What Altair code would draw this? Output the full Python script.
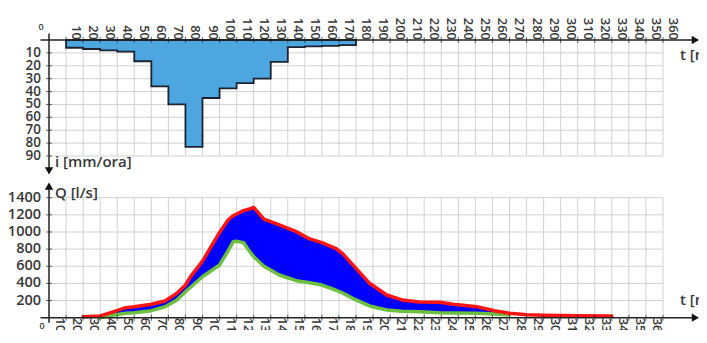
import altair as alt
import pandas as pd

# ---------------- data ----------------
# Hyetograph: rain intensity per 10-minute interval (interval start times)
rain_t = [10, 20, 30, 40, 50, 60, 70, 80, 90, 100, 110, 120, 130, 140, 150, 160, 170]
rain_i = [6, 7, 8, 9, 16.5, 36, 50, 83, 45, 37.5, 33.5, 30, 17, 5.5, 5, 4.5, 4]
rain_end = 180

# Hydrograph
q_t = [20, 30, 38, 45, 50, 60, 68, 75, 80, 83, 90, 100, 105, 108, 110, 114, 117, 120,
       126, 135, 145, 152, 160, 168, 172, 180, 188, 198, 207, 217, 229, 237, 251, 261,
       270, 280, 290, 310, 330]
q_red = [12, 20, 70, 117, 128, 156, 195, 285, 381, 479, 660, 995, 1140, 1190, 1210, 1249,
         1265, 1288, 1150, 1082, 1004, 926, 875, 810, 751, 576, 401, 265, 207, 182, 180,
         156, 128, 82, 51, 35, 28, 22, 20]
q_green = [None, 0, 31, 51, 58, 82, 128, 206, 303, 355, 478, 615, 780, 887, 892, 876,
           790, 712, 600, 498, 432, 410, 381, 323, 290, 207, 137, 90, 76, 70, 58, 55, 51,
           42, 31, None, None, None, None]

x_ticks = list(range(10, 361, 10))
i_ticks = list(range(10, 91, 10))
q_ticks = list(range(200, 1401, 200))

FONT = "Open Sans"
TXT = "#383838"
GRID = "#d2d2d2"
AX = "#222222"
PLOT_W, PLOT_H = 614, 277.7

xs = alt.Scale(domain=[0, 360], nice=False, zero=False)
ys_top = alt.Scale(domain=[0, 90], range=[0, 116], nice=False, zero=False)
ys_bot = alt.Scale(domain=[0, 1400], range=[PLOT_H, PLOT_H - 120], nice=False, zero=False)


def panel(ys, y_ticks, y_max, x_label_top, y_lo, y_hi, arrow_shape, y_font, texts):
    X = alt.X("t:Q", scale=xs, axis=None)
    Y = alt.Y("v:Q", scale=ys, axis=None)

    xt_df = pd.DataFrame({"t": x_ticks, "v": 0})
    yt_df = pd.DataFrame({"t": 0, "v": y_ticks})

    vgrid = alt.Chart(xt_df).mark_rule(color=GRID, strokeWidth=1).encode(
        x=X, y=Y, y2=alt.Y2("v2:Q")).transform_calculate(v2=str(y_max))
    hgrid = alt.Chart(yt_df).mark_rule(color=GRID, strokeWidth=1).encode(
        x=X, x2=alt.X2("t2:Q"), y=Y).transform_calculate(t2="360")

    xticks = alt.Chart(xt_df).mark_tick(orient="vertical", size=6, thickness=1,
                                        color=AX).encode(x=X, y=Y)
    yticks = alt.Chart(yt_df).mark_tick(orient="horizontal", size=6, thickness=1,
                                        color=AX).encode(x=X, y=Y)

    if x_label_top:
        xlab = alt.Chart(xt_df).mark_text(angle=90, align="right", baseline="middle",
                                          dy=-10, font=FONT, fontSize=13, fontWeight=600,
                                          color=TXT)
    else:
        xlab = alt.Chart(xt_df).mark_text(angle=90, align="left", baseline="middle",
                                          dy=6, font=FONT, fontSize=13, fontWeight=600,
                                          color=TXT)
    xlab = xlab.encode(x=X, y=Y, text=alt.Text("t:Q", format="d"))
    ylab = alt.Chart(yt_df).mark_text(align="right", baseline="middle", dx=-8,
                                      font=FONT, fontSize=y_font, fontWeight=600,
                                      color=TXT).encode(
        x=X, y=Y, text=alt.Text("v:Q", format="d"))

    rules_df = pd.DataFrame({"t": [-5, 0], "t2": [378, 0], "v": [0, y_lo], "v2": [0, y_hi]})
    rules = alt.Chart(rules_df).mark_rule(color=AX, strokeWidth=1.5).encode(
        x=X, x2="t2:Q", y=Y, y2="v2:Q")

    arrow_df = pd.DataFrame({"t": [379, 0], "v": [0, y_hi],
                             "shape": ["triangle-right", arrow_shape]})
    arrows = alt.Chart(arrow_df).mark_point(filled=True, size=70, color="#111",
                                            opacity=1).encode(
        x=X, y=Y, shape=alt.Shape("shape:N", scale=None))

    text_df = pd.DataFrame(texts)
    text = alt.Chart(text_df).mark_text(align="left", baseline="middle", font=FONT,
                                        fontWeight=600, color=TXT).encode(
        x=X, y=Y, text="label:N", size=alt.Size("fs:Q", scale=None))
    return X, Y, [vgrid, hgrid], [rules, xticks, yticks, arrows, xlab, ylab, text]


# ---------------- top panel (hyetograph) ----------------
Xt, Yt, top_grid, top_frame = panel(
    ys_top, i_ticks, 90, True, -5, 101.5, "triangle-down", 13.5,
    {"t": [370, 3.5, -6.2], "v": [11.6, 95, -10.3],
     "label": ["t [min]", "i [mm/ora]", "0"], "fs": [15, 15, 9]})

rain_df = pd.DataFrame({"t": rain_t + [rain_end], "v": rain_i + [rain_i[-1]]})
top_area = alt.Chart(rain_df).mark_area(
    interpolate="step-after", color="#4ea6e0", stroke="#1c2330", strokeWidth=1.8,
    opacity=1).encode(x=Xt, y=Yt)

top = alt.layer(*top_grid, top_area, *top_frame)

# ---------------- bottom panel (hydrograph) ----------------
Xb, Yb, bot_grid, bot_frame = panel(
    ys_bot, q_ticks, 1400, False, -60, 1535, "triangle-up", 14.5,
    {"t": [370, 3.5, -5.6], "v": [207, 1455, -100],
     "label": ["t [min]", "Q [l/s]", "0"], "fs": [15, 15, 9]})

q_df = pd.DataFrame({"t": q_t, "red": q_red, "green": q_green})
fill_df = q_df.dropna().rename(columns={"red": "v", "green": "v2"})
green_df = q_df.dropna()[["t", "green"]].rename(columns={"green": "v"})
red_df = q_df[["t", "red"]].rename(columns={"red": "v"})

fill = alt.Chart(fill_df).mark_area(color="#0000ff", opacity=1).encode(
    x=Xb, y=Yb, y2="v2:Q")
green_line = alt.Chart(green_df).mark_line(color="#6dbf3e", strokeWidth=3.5,
                                           strokeJoin="round", strokeCap="round").encode(
    x=Xb, y=Yb)
red_line = alt.Chart(red_df).mark_line(color="#ff1414", strokeWidth=3.5,
                                       strokeJoin="round", strokeCap="round").encode(
    x=Xb, y=Yb)

bottom = alt.layer(*bot_grid, fill, green_line, red_line, *bot_frame)

chart = alt.layer(top, bottom).resolve_scale(y="independent").properties(
    width=PLOT_W, height=PLOT_H,
    padding={"left": 41, "top": 32, "right": 36, "bottom": 12},
    autosize=alt.AutoSizeParams(type="none"),
).configure_view(strokeOpacity=0)

chart.save("out.html", embed_options={"renderer": "svg", "actions": False})
